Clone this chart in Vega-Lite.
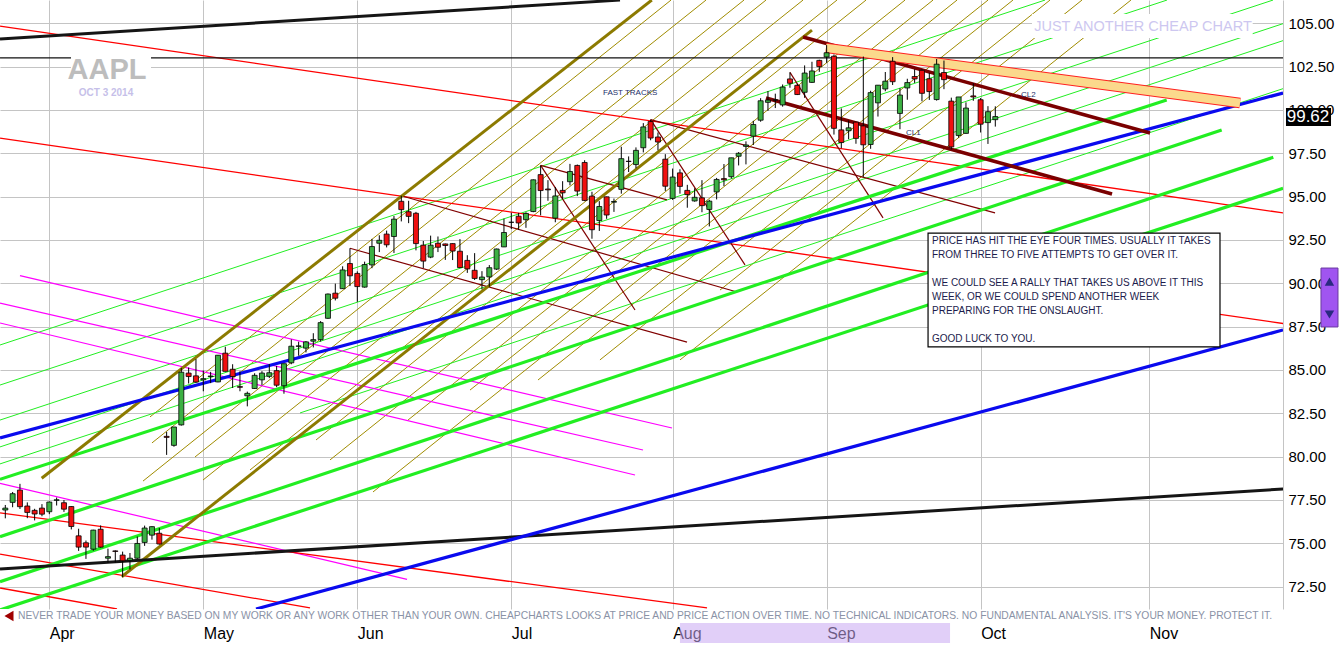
{
"$schema": "https://vega.github.io/schema/vega-lite/v6.json",
"width": 1283, "height": 609,
"autosize": {"type": "none"},
"padding": {"left": 0, "top": 0, "right": 56, "bottom": 36},
"background": "white",
"config": {"view": {"stroke": null}, "font": "Liberation Sans"},
"datasets": {
"lines": [
{"id":"K1","k":"blackthick","idx":-6.72,"p":104.09},{"id":"K1","k":"blackthick","idx":77.82,"p":106.34},
{"id":"K3","k":"blackthick","idx":-6.72,"p":73.52},{"id":"K3","k":"blackthick","idx":168.24,"p":78.13},
{"id":"K2","k":"blackthin","idx":-6.72,"p":103.01},{"id":"K2","k":"blackthin","idx":168.24,"p":103.01},
{"id":"R1","k":"red","idx":-6.72,"p":104.84},{"id":"R1","k":"red","idx":168.24,"p":94.06},
{"id":"R2","k":"red","idx":-6.72,"p":98.37},{"id":"R2","k":"red","idx":168.24,"p":87.68},
{"id":"R3","k":"red","idx":-6.72,"p":76.75},{"id":"R3","k":"red","idx":89.69,"p":71.27},
{"id":"R4","k":"red","idx":-6.72,"p":74.38},{"id":"R4","k":"red","idx":35.55,"p":71.27},
{"id":"R5","k":"red","idx":-6.72,"p":72.42},{"id":"R5","k":"red","idx":9.23,"p":71.21},
{"id":"G1","k":"mag","idx":-6.72,"p":78.46},{"id":"G1","k":"mag","idx":48.78,"p":72.92},
{"id":"G2","k":"mag","idx":-4.0,"p":90.44},{"id":"G2","k":"mag","idx":84.91,"p":81.65},
{"id":"G3","k":"mag","idx":-6.72,"p":88.86},{"id":"G3","k":"mag","idx":80.96,"p":80.38},
{"id":"G4","k":"mag","idx":-6.72,"p":87.71},{"id":"G4","k":"mag","idx":79.87,"p":78.94},
{"id":"B1","k":"blue","idx":-6.72,"p":81.08},{"id":"B1","k":"blue","idx":168.24,"p":100.98},
{"id":"B2","k":"blue","idx":28.19,"p":71.21},{"id":"B2","k":"blue","idx":168.24,"p":87.31},
{"id":"OA","k":"olivethick","idx":-1.04,"p":78.75},{"id":"OA","k":"olivethick","idx":82.16,"p":106.34},
{"id":"OB","k":"olivethick","idx":9.87,"p":73.07},{"id":"OB","k":"olivethick","idx":104.0,"p":104.61},
{"id":"TG1","k":"greenthick","idx":-6.72,"p":78.69},{"id":"TG1","k":"greenthick","idx":152.37,"p":100.58},
{"id":"TG2","k":"greenthick","idx":-6.72,"p":75.38},{"id":"TG2","k":"greenthick","idx":159.87,"p":98.84},
{"id":"TG3","k":"greenthick","idx":-6.72,"p":72.78},{"id":"TG3","k":"greenthick","idx":166.91,"p":97.27},
{"id":"TG4","k":"greenthick","idx":-6.72,"p":71.15},{"id":"TG4","k":"greenthick","idx":168.24,"p":95.48},
{"id":"ta","k":"greenthin","idx":-6.72,"p":86.44},{"id":"ta","k":"greenthin","idx":135.78,"p":106.34},
{"id":"tb","k":"greenthin","idx":-6.72,"p":84.13},{"id":"tb","k":"greenthin","idx":152.41,"p":106.34},
{"id":"tc","k":"greenthin","idx":-6.72,"p":82.11},{"id":"tc","k":"greenthin","idx":166.87,"p":106.34},
{"id":"td","k":"greenthin","idx":-6.72,"p":80.56},{"id":"td","k":"greenthin","idx":168.24,"p":104.98},
{"id":"te","k":"greenthin","idx":-6.72,"p":79.58},{"id":"te","k":"greenthin","idx":168.24,"p":104.0},
{"id":"tf","k":"greenthin","idx":34.19,"p":82.52},{"id":"tf","k":"greenthin","idx":168.24,"p":101.23},
{"id":"o0","k":"olive","idx":13.73,"p":82.29},{"id":"o0","k":"olive","idx":84.78,"p":106.34},
{"id":"o1","k":"olive","idx":14.0,"p":80.79},{"id":"o1","k":"olive","idx":89.55,"p":106.34},
{"id":"o2","k":"olive","idx":12.78,"p":78.59},{"id":"o2","k":"olive","idx":94.73,"p":106.34},
{"id":"o3","k":"olive","idx":19.87,"p":79.98},{"id":"o3","k":"olive","idx":97.73,"p":106.34},
{"id":"o4","k":"olive","idx":20.96,"p":78.65},{"id":"o4","k":"olive","idx":102.78,"p":106.34},
{"id":"o5","k":"olive","idx":27.37,"p":79.23},{"id":"o5","k":"olive","idx":107.41,"p":106.34},
{"id":"o6","k":"olive","idx":36.37,"p":80.96},{"id":"o6","k":"olive","idx":111.37,"p":106.34},
{"id":"o7","k":"olive","idx":38.28,"p":79.81},{"id":"o7","k":"olive","idx":116.69,"p":106.34},
{"id":"o8","k":"olive","idx":48.91,"p":82.11},{"id":"o8","k":"olive","idx":120.51,"p":106.34},
{"id":"o8b","k":"olive","idx":57.37,"p":83.84},{"id":"o8b","k":"olive","idx":123.78,"p":106.34},
{"id":"o9","k":"olive","idx":44.14,"p":77.96},{"id":"o9","k":"olive","idx":128.01,"p":106.34},
{"id":"o10","k":"olive","idx":66.64,"p":84.42},{"id":"o10","k":"olive","idx":131.41,"p":106.34},
{"id":"o11","k":"olive","idx":75.09,"p":85.58},{"id":"o11","k":"olive","idx":136.46,"p":106.34},
{"id":"o12","k":"olive","idx":91.46,"p":89.61},{"id":"o12","k":"olive","idx":140.82,"p":106.34},
{"id":"o13","k":"olive","idx":86.01,"p":85.58},{"id":"o13","k":"olive","idx":147.5,"p":106.34},
{"id":"M1","k":"maroon","idx":48,"p":95.05},{"id":"M1","k":"maroon","idx":93.78,"p":89.5},
{"id":"M2","k":"maroon","idx":41,"p":92.02},{"id":"M2","k":"maroon","idx":86.96,"p":86.61},
{"id":"M3","k":"maroon","idx":67,"p":96.8},{"id":"M3","k":"maroon","idx":79.87,"p":88.46},
{"id":"M4","k":"maroon","idx":82,"p":99.44},{"id":"M4","k":"maroon","idx":94.87,"p":91.06},
{"id":"M5","k":"maroon","idx":82,"p":99.44},{"id":"M5","k":"maroon","idx":128.96,"p":94.06},
{"id":"M6","k":"maroon","idx":67,"p":96.8},{"id":"M6","k":"maroon","idx":84.23,"p":94.81},
{"id":"M7","k":"maroon","idx":101,"p":102.17},{"id":"M7","k":"maroon","idx":113.69,"p":93.77},
{"id":"CL1","k":"maroonthick","idx":97.73,"p":100.69},{"id":"CL1","k":"maroonthick","idx":144.92,"p":95.15},
{"id":"CL2","k":"maroonthick","idx":102.78,"p":104.21},{"id":"CL2","k":"maroonthick","idx":150.1,"p":98.67},
{"id":"BAND","k":"band","idx":105.91,"p":103.58},{"id":"BAND","k":"band","idx":162.37,"p":100.4}
],
"ohlc": [
{"idx":-6,"o":76.92,"h":77.21,"l":76.44,"c":77.03},
{"idx":-5,"o":77.36,"h":77.96,"l":77.08,"c":77.86},
{"idx":-4,"o":78.07,"h":78.43,"l":76.98,"c":77.11},
{"idx":-3,"o":77.15,"h":77.36,"l":76.45,"c":76.78},
{"idx":-2,"o":76.9,"h":76.99,"l":76.32,"c":76.69},
{"idx":-1,"o":77.03,"h":77.26,"l":76.56,"c":76.68},
{"idx":0,"o":76.82,"h":77.41,"l":76.68,"c":77.38},
{"idx":1,"o":77.48,"h":77.64,"l":77.18,"c":77.51},
{"idx":2,"o":77.34,"h":77.5,"l":76.81,"c":76.97},
{"idx":3,"o":77.12,"h":77.14,"l":75.8,"c":75.97},
{"idx":4,"o":75.43,"h":75.84,"l":74.56,"c":74.78},
{"idx":5,"o":75.03,"h":75.16,"l":74.1,"c":74.78},
{"idx":6,"o":74.66,"h":75.78,"l":74.57,"c":75.76},
{"idx":7,"o":75.81,"h":76.03,"l":74.74,"c":74.78},
{"idx":8,"o":74.14,"h":74.69,"l":73.88,"c":74.23},
{"idx":9,"o":74.56,"h":74.59,"l":73.89,"c":74.53},
{"idx":10,"o":74.32,"h":74.52,"l":73.05,"c":73.99},
{"idx":11,"o":74.01,"h":74.44,"l":73.49,"c":74.14},
{"idx":12,"o":74.14,"h":75.39,"l":74.1,"c":74.99},
{"idx":13,"o":75.05,"h":76.02,"l":74.85,"c":75.88},
{"idx":14,"o":75.47,"h":75.98,"l":75.21,"c":75.96},
{"idx":15,"o":75.58,"h":75.88,"l":74.92,"c":74.96},
{"idx":16,"o":81.17,"h":81.43,"l":80.1,"c":81.11},
{"idx":17,"o":80.65,"h":81.71,"l":80.57,"c":81.71},
{"idx":18,"o":81.83,"h":85.11,"l":81.79,"c":84.87},
{"idx":19,"o":84.82,"h":85.14,"l":84.22,"c":84.62},
{"idx":20,"o":84.66,"h":85.63,"l":84.26,"c":84.3},
{"idx":21,"o":84.43,"h":84.97,"l":83.77,"c":84.5},
{"idx":22,"o":84.62,"h":84.89,"l":84.24,"c":84.65},
{"idx":23,"o":84.31,"h":85.86,"l":84.29,"c":85.85},
{"idx":24,"o":85.97,"h":86.34,"l":84.92,"c":84.92},
{"idx":25,"o":85.04,"h":85.33,"l":83.96,"c":84.62},
{"idx":26,"o":84.04,"h":84.92,"l":83.77,"c":84.0},
{"idx":27,"o":83.51,"h":83.75,"l":82.9,"c":83.65},
{"idx":28,"o":83.93,"h":84.81,"l":83.91,"c":84.69},
{"idx":29,"o":84.43,"h":84.93,"l":84.12,"c":84.82},
{"idx":30,"o":84.63,"h":85.34,"l":84.53,"c":84.84},
{"idx":31,"o":84.96,"h":85.23,"l":84.01,"c":84.12},
{"idx":32,"o":84.09,"h":85.36,"l":83.63,"c":85.36},
{"idx":33,"o":85.41,"h":86.76,"l":85.33,"c":86.37},
{"idx":34,"o":86.36,"h":86.63,"l":85.82,"c":86.39},
{"idx":35,"o":86.26,"h":86.67,"l":86.01,"c":86.62},
{"idx":36,"o":86.66,"h":87.12,"l":86.3,"c":86.75},
{"idx":37,"o":86.75,"h":87.82,"l":86.64,"c":87.73},
{"idx":38,"o":87.98,"h":89.41,"l":87.95,"c":89.38},
{"idx":39,"o":89.43,"h":89.98,"l":89.01,"c":89.14},
{"idx":40,"o":89.69,"h":90.98,"l":89.68,"c":90.77},
{"idx":41,"o":91.14,"h":92.02,"l":89.84,"c":90.43},
{"idx":42,"o":90.57,"h":90.69,"l":88.93,"c":89.81},
{"idx":43,"o":89.78,"h":91.25,"l":89.75,"c":91.08},
{"idx":44,"o":91.06,"h":92.56,"l":90.87,"c":92.12},
{"idx":45,"o":92.31,"h":92.77,"l":91.8,"c":92.48},
{"idx":46,"o":92.84,"h":93.04,"l":92.07,"c":92.22},
{"idx":47,"o":92.7,"h":93.88,"l":91.75,"c":93.7},
{"idx":48,"o":94.73,"h":95.05,"l":93.57,"c":94.25},
{"idx":49,"o":94.13,"h":94.76,"l":93.47,"c":93.86},
{"idx":50,"o":94.04,"h":94.12,"l":91.9,"c":92.29},
{"idx":51,"o":92.2,"h":92.44,"l":90.88,"c":91.28},
{"idx":52,"o":91.51,"h":92.75,"l":91.45,"c":92.2},
{"idx":53,"o":92.31,"h":92.7,"l":91.8,"c":92.08},
{"idx":54,"o":92.27,"h":92.29,"l":91.35,"c":92.18},
{"idx":55,"o":92.29,"h":92.3,"l":91.34,"c":91.86},
{"idx":56,"o":91.85,"h":92.55,"l":90.9,"c":90.91},
{"idx":57,"o":91.32,"h":91.62,"l":90.6,"c":90.83},
{"idx":58,"o":90.75,"h":91.74,"l":90.19,"c":90.28},
{"idx":59,"o":90.21,"h":90.7,"l":89.65,"c":90.36},
{"idx":60,"o":90.37,"h":91.05,"l":89.8,"c":90.9},
{"idx":61,"o":90.82,"h":92.0,"l":90.77,"c":91.98},
{"idx":62,"o":92.1,"h":93.73,"l":92.09,"c":92.93},
{"idx":63,"o":93.52,"h":94.07,"l":93.13,"c":93.52},
{"idx":64,"o":93.87,"h":94.06,"l":93.09,"c":93.48},
{"idx":65,"o":93.67,"h":94.1,"l":93.2,"c":94.03},
{"idx":66,"o":94.14,"h":95.99,"l":94.1,"c":95.97},
{"idx":67,"o":96.27,"h":96.8,"l":93.92,"c":95.35},
{"idx":68,"o":95.44,"h":95.95,"l":94.76,"c":95.39},
{"idx":69,"o":93.76,"h":95.55,"l":93.52,"c":95.04},
{"idx":70,"o":95.36,"h":95.89,"l":94.86,"c":95.22},
{"idx":71,"o":95.86,"h":96.89,"l":95.65,"c":96.45},
{"idx":72,"o":96.8,"h":96.85,"l":95.03,"c":95.32},
{"idx":73,"o":96.97,"h":97.1,"l":94.74,"c":94.78},
{"idx":74,"o":95.03,"h":95.28,"l":92.57,"c":93.09},
{"idx":75,"o":93.62,"h":94.74,"l":93.02,"c":94.43},
{"idx":76,"o":94.99,"h":95.0,"l":93.72,"c":93.94},
{"idx":77,"o":94.68,"h":94.89,"l":94.12,"c":94.72},
{"idx":78,"o":95.42,"h":97.88,"l":95.17,"c":97.19},
{"idx":79,"o":97.04,"h":97.32,"l":96.42,"c":97.03},
{"idx":80,"o":96.85,"h":97.84,"l":96.64,"c":97.67},
{"idx":81,"o":97.82,"h":99.24,"l":97.55,"c":99.02},
{"idx":82,"o":99.33,"h":99.44,"l":98.25,"c":98.38},
{"idx":83,"o":98.44,"h":98.7,"l":97.67,"c":98.15},
{"idx":84,"o":97.16,"h":97.45,"l":95.33,"c":95.6},
{"idx":85,"o":94.9,"h":96.62,"l":94.81,"c":96.13},
{"idx":86,"o":96.37,"h":96.58,"l":95.17,"c":95.59},
{"idx":87,"o":95.36,"h":95.68,"l":94.36,"c":95.12},
{"idx":88,"o":94.75,"h":95.48,"l":94.71,"c":94.96},
{"idx":89,"o":94.93,"h":95.95,"l":94.1,"c":94.48},
{"idx":90,"o":94.26,"h":94.82,"l":93.28,"c":94.74},
{"idx":91,"o":95.27,"h":96.08,"l":94.84,"c":95.99},
{"idx":92,"o":96.04,"h":96.88,"l":95.61,"c":95.97},
{"idx":93,"o":96.15,"h":97.24,"l":96.04,"c":97.24},
{"idx":94,"o":97.33,"h":97.57,"l":96.8,"c":97.5},
{"idx":95,"o":97.9,"h":98.19,"l":96.86,"c":97.98},
{"idx":96,"o":98.49,"h":99.37,"l":97.98,"c":99.16},
{"idx":97,"o":99.41,"h":100.68,"l":99.32,"c":100.53},
{"idx":98,"o":100.44,"h":101.09,"l":99.95,"c":100.57},
{"idx":99,"o":100.57,"h":100.94,"l":100.11,"c":100.58},
{"idx":100,"o":100.29,"h":101.47,"l":100.19,"c":101.32},
{"idx":101,"o":101.79,"h":102.17,"l":101.28,"c":101.54},
{"idx":102,"o":101.42,"h":101.5,"l":100.86,"c":100.89},
{"idx":103,"o":101.02,"h":102.57,"l":100.7,"c":102.13},
{"idx":104,"o":101.59,"h":102.78,"l":101.56,"c":102.25},
{"idx":105,"o":102.86,"h":102.9,"l":102.2,"c":102.5},
{"idx":106,"o":103.06,"h":103.74,"l":102.72,"c":103.3},
{"idx":107,"o":103.1,"h":103.2,"l":98.58,"c":98.94},
{"idx":108,"o":98.85,"h":100.09,"l":97.79,"c":98.12},
{"idx":109,"o":98.8,"h":99.39,"l":98.31,"c":98.97},
{"idx":110,"o":99.3,"h":99.31,"l":98.05,"c":98.36},
{"idx":111,"o":99.08,"h":103.08,"l":96.14,"c":97.99},
{"idx":112,"o":98.01,"h":101.11,"l":97.76,"c":101.0},
{"idx":113,"o":100.41,"h":101.44,"l":99.62,"c":101.43},
{"idx":114,"o":101.21,"h":102.19,"l":101.08,"c":101.66},
{"idx":115,"o":102.81,"h":103.05,"l":101.44,"c":101.63},
{"idx":116,"o":99.8,"h":101.26,"l":98.89,"c":100.86},
{"idx":117,"o":101.27,"h":101.8,"l":100.59,"c":101.58},
{"idx":118,"o":101.93,"h":102.35,"l":101.56,"c":101.79},
{"idx":119,"o":102.29,"h":102.35,"l":100.5,"c":100.96},
{"idx":120,"o":101.8,"h":102.14,"l":100.58,"c":101.06},
{"idx":121,"o":100.6,"h":102.94,"l":100.54,"c":102.64},
{"idx":122,"o":102.16,"h":102.85,"l":101.2,"c":101.75},
{"idx":123,"o":100.51,"h":100.71,"l":97.72,"c":97.87},
{"idx":124,"o":98.53,"h":100.75,"l":98.4,"c":100.75},
{"idx":125,"o":98.65,"h":100.44,"l":98.63,"c":100.11},
{"idx":126,"o":100.81,"h":101.54,"l":100.53,"c":100.75},
{"idx":127,"o":100.59,"h":100.69,"l":98.7,"c":99.18},
{"idx":128,"o":99.27,"h":100.22,"l":98.04,"c":99.9},
{"idx":129,"o":99.44,"h":100.21,"l":99.04,"c":99.62}
],
"boxes": [
{"k":"whitebg","idx":2.96,"idx2":13.87,"p":100.46,"p2":103.46},
{"k":"whitebg","idx":134.0,"idx2":164.1,"p":104.15,"p2":105.54},
{"k":"textbox","idx":119.83,"idx2":159.64,"p":86.33,"p2":92.9},
{"k":"last","idx":168.64,"idx2":174.78,"p":99.08,"p2":100.11},
{"k":"sep","idx":86.0,"idx2":122.83,"p":69.25,"p2":70.4},
{"k":"scroll","idx":173.41,"idx2":175.73,"p":87.48,"p2":90.88}
],
"notes": [
{"k":"aapl","t":"AAPL","idx":7.87,"p":102.31},
{"k":"date","t":"OCT 3 2014","idx":7.73,"p":100.98},
{"k":"cheap","t":"JUST ANOTHER CHEAP CHART","idx":149.14,"p":104.79},
{"k":"small","t":"FAST TRACKS","idx":75.5,"p":100.98},
{"k":"small","t":"CL1","idx":116.82,"p":98.67},
{"k":"small","t":"CL2","idx":132.51,"p":100.86},
{"k":"box","t":"PRICE HAS HIT THE EYE FOUR TIMES. USUALLY IT TAKES","idx":120.37,"p":92.44},
{"k":"box","t":"FROM THREE TO FIVE ATTEMPTS TO GET OVER IT.","idx":120.37,"p":91.63},
{"k":"box","t":"WE COULD SEE A RALLY THAT TAKES US ABOVE IT THIS","idx":120.37,"p":90.0},
{"k":"box","t":"WEEK, OR WE COULD SPEND ANOTHER WEEK","idx":120.37,"p":89.23},
{"k":"box","t":"PREPARING FOR THE ONSLAUGHT.","idx":120.37,"p":88.4},
{"k":"box","t":"GOOD LUCK TO YOU.","idx":120.37,"p":86.77},
{"k":"disc","t":"NEVER TRADE YOUR MONEY BASED ON MY WORK OR ANY WORK OTHER THAN YOUR OWN. CHEAPCHARTS LOOKS AT PRICE AND PRICE ACTION OVER TIME. NO TECHNICAL INDICATORS. NO FUNDAMENTAL ANALYSIS. IT'S YOUR MONEY. PROTECT IT.","idx":-4.27,"p":70.81},
{"k":"last","t":"99.62","idx":171.64,"p":99.6},
{"k":"arrow","t":"","idx":-5.5,"p":70.81},
{"k":"up","t":"","idx":174.57,"p":90.1},
{"k":"down","t":"","idx":174.57,"p":88.2}
]
},
"encoding": {
  "x":{"field":"idx","type":"quantitative","scale":{"domain":[-6.7227,168.232],"nice":false,"zero":false,"padding":0},
       "axis":{"values":[0,21,42,63,85,106,127,150],"labelExpr":"datum.value==0?'Apr':datum.value==21?'May':datum.value==42?'Jun':datum.value==63?'Jul':datum.value==85?'Aug':datum.value==106?'Sep':datum.value==127?'Oct':'Nov'","labelAlign":"left","labelBaseline":"top","labelPadding":16,"labelFont":"Liberation Sans","labelFontSize":16,"labelColor":"#000","labelFlush":false,"labelOverlap":false,"ticks":false,"domain":false,"grid":true,"gridColor":"#c4c4c4","gridWidth":1,"title":null}},
  "y":{"field":"p","type":"quantitative","scale":{"domain":[71.209,106.344],"nice":false,"zero":false,"padding":0},
       "axis":{"orient":"right","values":[72.5,75,77.5,80,82.5,85,87.5,90,92.5,95,97.5,100,102.5,105],"format":".2f","labelFont":"Liberation Sans","labelFontSize":15,"labelColor":"#000","labelPadding":5,"labelOverlap":false,"labelFlush":false,"ticks":false,"domain":true,"domainColor":"#c4c4c4","grid":true,"gridColor":"#c4c4c4","gridWidth":1,"title":null}}
},
"layer": [
{"data":{"name":"lines"},"transform":[{"filter":"datum.k=='olive'"}],
 "mark":{"type":"line","color":"#a08c00","strokeWidth":1,"clip":true},"encoding":{"detail":{"field":"id"}}},
{"data":{"name":"lines"},"transform":[{"filter":"datum.k=='greenthin'"}],
 "mark":{"type":"line","color":"#22ee22","strokeWidth":1,"clip":true},"encoding":{"detail":{"field":"id"}}},
{"data":{"name":"lines"},"transform":[{"filter":"datum.k=='mag'"}],
 "mark":{"type":"line","color":"#ff00ff","strokeWidth":1.2,"clip":true},"encoding":{"detail":{"field":"id"}}},
{"data":{"name":"lines"},"transform":[{"filter":"datum.k=='red'"}],
 "mark":{"type":"line","color":"#ff0000","strokeWidth":1.3,"clip":true},"encoding":{"detail":{"field":"id"}}},
{"data":{"name":"lines"},"transform":[{"filter":"datum.k=='maroon'"}],
 "mark":{"type":"line","color":"#800000","strokeWidth":1.2,"clip":true},"encoding":{"detail":{"field":"id"}}},
{"data":{"name":"lines"},"transform":[{"filter":"datum.k=='greenthick'"}],
 "mark":{"type":"line","color":"#22ee22","strokeWidth":3.2,"clip":true},"encoding":{"detail":{"field":"id"}}},
{"data":{"name":"lines"},"transform":[{"filter":"datum.k=='olivethick'"}],
 "mark":{"type":"line","color":"#8c7a00","strokeWidth":3,"clip":true},"encoding":{"detail":{"field":"id"}}},
{"data":{"name":"lines"},"transform":[{"filter":"datum.k=='blackthin'"}],
 "mark":{"type":"line","color":"#111111","strokeWidth":1.3,"clip":true},"encoding":{"detail":{"field":"id"}}},
{"data":{"name":"lines"},"transform":[{"filter":"datum.k=='blackthick'"}],
 "mark":{"type":"line","color":"#151515","strokeWidth":3,"clip":true},"encoding":{"detail":{"field":"id"}}},
{"data":{"name":"lines"},"transform":[{"filter":"datum.k=='blue'"}],
 "mark":{"type":"line","color":"#0a0aee","strokeWidth":3.2,"clip":true},"encoding":{"detail":{"field":"id"}}},
{"data":{"name":"lines"},"transform":[{"filter":"datum.k=='maroonthick'"}],
 "mark":{"type":"line","color":"#7a0000","strokeWidth":3.5,"clip":true},"encoding":{"detail":{"field":"id"}}},
{"data":{"name":"lines"},"transform":[{"filter":"datum.k=='band'"}],
 "mark":{"type":"line","color":"#ff2020","strokeWidth":10.5,"clip":true},"encoding":{"detail":{"field":"id"}}},
{"data":{"name":"lines"},"transform":[{"filter":"datum.k=='band'"}],
 "mark":{"type":"line","color":"#fbd98c","strokeWidth":8.5,"clip":true},"encoding":{"detail":{"field":"id"}}},
{"data":{"name":"ohlc"},
 "mark":{"type":"rule","color":"#000000","strokeWidth":1,"clip":true},
 "encoding":{
  "y":{"field":"l","type":"quantitative","scale":{"domain":[71.209,106.344],"nice":false,"zero":false,"padding":0},
       "axis":{"orient":"right","values":[72.5,75,77.5,80,82.5,85,87.5,90,92.5,95,97.5,100,102.5,105],"format":".2f","labelFont":"Liberation Sans","labelFontSize":15,"labelColor":"#000","labelPadding":5,"labelOverlap":false,"labelFlush":false,"ticks":false,"domain":true,"domainColor":"#c4c4c4","grid":true,"gridColor":"#c4c4c4","gridWidth":1,"title":null}},
  "y2":{"field":"h"}}},
{"data":{"name":"ohlc"},
 "mark":{"type":"bar","size":5,"stroke":"#000000","strokeWidth":0.8,"clip":true},
 "encoding":{
  "y":{"field":"o","type":"quantitative","scale":{"domain":[71.209,106.344],"nice":false,"zero":false,"padding":0},
       "axis":{"orient":"right","values":[72.5,75,77.5,80,82.5,85,87.5,90,92.5,95,97.5,100,102.5,105],"format":".2f","labelFont":"Liberation Sans","labelFontSize":15,"labelColor":"#000","labelPadding":5,"labelOverlap":false,"labelFlush":false,"ticks":false,"domain":true,"domainColor":"#c4c4c4","grid":true,"gridColor":"#c4c4c4","gridWidth":1,"title":null}},
  "y2":{"field":"c"},
  "fill":{"condition":{"test":"datum.c >= datum.o","value":"#3cb043"},"value":"#f01010"}}},
{"data":{"name":"boxes"},"transform":[{"filter":"datum.k=='whitebg'"}],
 "mark":{"type":"rect","fill":"#ffffff","clip":true},"encoding":{"x2":{"field":"idx2"},"y2":{"field":"p2"}}},
{"data":{"name":"boxes"},"transform":[{"filter":"datum.k=='textbox'"}],
 "mark":{"type":"rect","fill":"#ffffff","stroke":"#000000","strokeWidth":1.2},"encoding":{"x2":{"field":"idx2"},"y2":{"field":"p2"}}},
{"data":{"name":"boxes"},"transform":[{"filter":"datum.k=='last'"}],
 "mark":{"type":"rect","fill":"#000000"},"encoding":{"x2":{"field":"idx2"},"y2":{"field":"p2"}}},
{"data":{"name":"boxes"},"transform":[{"filter":"datum.k=='sep'"}],
 "mark":{"type":"rect","fill":"#c9a8f2","opacity":0.55},"encoding":{"x2":{"field":"idx2"},"y2":{"field":"p2"}}},
{"data":{"name":"boxes"},"transform":[{"filter":"datum.k=='scroll'"}],
 "mark":{"type":"rect","fill":"#a055f0","stroke":"#6a3aa0","strokeWidth":1},"encoding":{"x2":{"field":"idx2"},"y2":{"field":"p2"}}},
{"data":{"name":"notes"},"transform":[{"filter":"datum.k=='up'"}],
 "mark":{"type":"point","shape":"triangle-up","filled":true,"color":"#2a2a80","size":90,"opacity":1}},
{"data":{"name":"notes"},"transform":[{"filter":"datum.k=='down'"}],
 "mark":{"type":"point","shape":"triangle-down","filled":true,"color":"#2a2a80","size":90,"opacity":1}},
{"data":{"name":"notes"},"transform":[{"filter":"datum.k=='arrow'"}],
 "mark":{"type":"point","shape":"triangle-left","filled":true,"color":"#a00000","size":110,"opacity":1}},
{"data":{"name":"notes"},"transform":[{"filter":"datum.k=='aapl'"}],
 "mark":{"type":"text","font":"Liberation Sans","fontWeight":"bold","fontSize":29,"color":"#bdbdbd","align":"center","baseline":"middle"},
 "encoding":{"text":{"field":"t"}}},
{"data":{"name":"notes"},"transform":[{"filter":"datum.k=='date'"}],
 "mark":{"type":"text","font":"Liberation Sans","fontWeight":"bold","fontSize":10,"color":"#c6bfe9","align":"center","baseline":"middle"},
 "encoding":{"text":{"field":"t"}}},
{"data":{"name":"notes"},"transform":[{"filter":"datum.k=='cheap'"}],
 "mark":{"type":"text","font":"Liberation Sans","fontSize":14.5,"color":"#cdc7f0","align":"center","baseline":"middle"},
 "encoding":{"text":{"field":"t"}}},
{"data":{"name":"notes"},"transform":[{"filter":"datum.k=='small'"}],
 "mark":{"type":"text","font":"Liberation Sans","fontSize":8,"color":"#23306a","align":"left","baseline":"middle"},
 "encoding":{"text":{"field":"t"}}},
{"data":{"name":"notes"},"transform":[{"filter":"datum.k=='box'"}],
 "mark":{"type":"text","font":"Liberation Sans","fontSize":10,"color":"#1c1c4c","align":"left","baseline":"middle"},
 "encoding":{"text":{"field":"t"}}},
{"data":{"name":"notes"},"transform":[{"filter":"datum.k=='disc'"}],
 "mark":{"type":"text","font":"Liberation Sans","fontSize":10.3,"color":"#8a92a6","align":"left","baseline":"middle"},
 "encoding":{"text":{"field":"t"}}},
{"data":{"name":"notes"},"transform":[{"filter":"datum.k=='last'"}],
 "mark":{"type":"text","font":"Liberation Sans","fontSize":17,"color":"#ffffff","align":"center","baseline":"middle"},
 "encoding":{"text":{"field":"t"}}}
]
}
